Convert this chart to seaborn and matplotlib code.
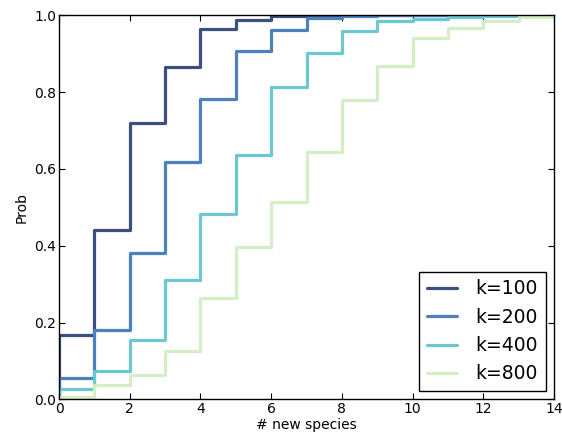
import pandas as pd
import matplotlib
matplotlib.use('Agg')
import matplotlib.pyplot as plt
import seaborn as sns

# CDF values of number of new species, read from x = 0, 1, 2, ...
labels = ['k=100', 'k=200', 'k=400', 'k=800']
k100 = [0.168, 0.44, 0.719, 0.865, 0.965, 0.988, 0.998, 1.0]
k200 = [0.057, 0.181, 0.382, 0.617, 0.782, 0.906, 0.963, 0.993, 0.998, 1.0]
k400 = [0.027, 0.074, 0.154, 0.311, 0.484, 0.637, 0.814, 0.901, 0.96,
        0.984, 0.991, 0.995, 0.998, 1.0]
k800 = [0.007, 0.038, 0.064, 0.127, 0.265, 0.398, 0.515, 0.644, 0.78,
        0.868, 0.941, 0.968, 0.986, 0.995]
colors = ['#3b4f80', '#4c80be', '#6cc7d0', '#d4efc5']
x_max = 14

# Build long table: start each step line at (0, 0), then step-post through values
rows = []
for label, ps in zip(labels, [k100, k200, k400, k800]):
    rows.append((label, 0, 0.0))
    for i, p in enumerate(ps):
        rows.append((label, i, p))
    rows.append((label, x_max, ps[-1]))
df = pd.DataFrame(rows, columns=['k', 'x', 'prob'])

sns.set_style('white')
plt.rcParams.update({
    'font.family': ['DejaVu Sans'],
    'text.color': 'black', 'axes.labelcolor': 'black',
    'xtick.color': 'black', 'ytick.color': 'black',
    'xtick.direction': 'in', 'ytick.direction': 'in',
    'xtick.top': True, 'ytick.right': True,
    'xtick.bottom': True, 'ytick.left': True,
    'xtick.major.size': 4, 'ytick.major.size': 4,
    'axes.edgecolor': 'black', 'axes.linewidth': 1.0,
})

fig = plt.figure(figsize=(5.62, 4.37), dpi=100)
ax = fig.add_axes([0.105, 0.086, 0.881, 0.879])

sns.lineplot(data=df, x='x', y='prob', hue='k', palette=colors,
             estimator=None, sort=False, drawstyle='steps-post',
             linewidth=2.3, ax=ax, legend=False)

ax.set_xlim(0, 14)
ax.set_ylim(0, 1)
ax.set_xticks(range(0, 15, 2))
ax.set_yticks([0, 0.2, 0.4, 0.6, 0.8, 1.0])
ax.set_yticklabels(['0.0', '0.2', '0.4', '0.6', '0.8', '1.0'])
ax.tick_params(labelsize=10, pad=2)
ax.set_xlabel('# new species', fontsize=10, labelpad=1)
ax.set_ylabel('Prob', fontsize=10, labelpad=4)

handles = [plt.Line2D([], [], color=c, linewidth=2.3) for c in colors]
leg = ax.legend(handles, labels, loc='lower right', fontsize=13.5,
                fancybox=False, edgecolor='black', framealpha=1,
                handlelength=1.6, handletextpad=1.0, labelspacing=0.5,
                borderaxespad=0.45)
leg.get_frame().set_linewidth(1.0)

fig.savefig('out.png', dpi=100)
